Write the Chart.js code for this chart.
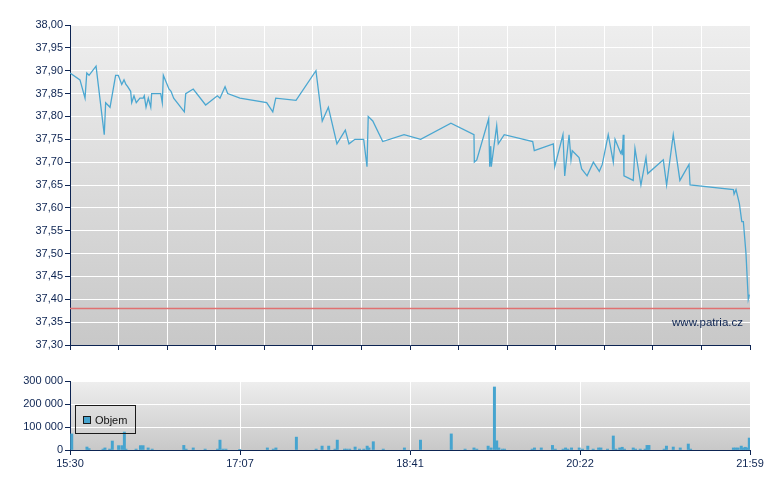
<!DOCTYPE html>
<html lang="cs">
<head>
    <meta charset="UTF-8">
    <title>Graf</title>
    <script src="https://cdn.jsdelivr.net/npm/chart.js"></script>
    <style>
        body {
            margin: 0;
            background: #fff;
        }
        canvas {
            position: absolute;
            left: 0;
        }
        #priceChart { top: 0; }
        #volumeChart { top: 360px; }
    </style>
</head>
<body>
    <canvas id="priceChart" width="780" height="360"></canvas>
    <canvas id="volumeChart" width="780" height="130"></canvas>

    <script>
        // minuty od 15:30 (konec seance 21:59 = 389)
        const sessionLength = 389;
        const timeLabels = ["15:30", "17:07", "18:41", "20:22", "21:59"];
        const priceTicks = [37.30, 38.00, 0.05];
        const limitPrice = 37.38;

        const priceTimes = [
            0, 5.7, 8.6, 9.6, 10.9, 14.9, 19.6, 20.4, 22.9, 26.1,
            27.6, 29.6, 30.9, 32.0, 33.0, 34.7, 35.3, 36.6, 37.9, 40.0,
            41.9, 42.5, 43.5, 44.8, 46.2, 46.7, 51.9, 52.8, 53.4, 56.6,
            57.8, 59.3, 65.4, 66.2, 70.5, 77.6, 84.3, 85.8, 88.7, 90.2,
            97.2, 112.5, 116.0, 117.7, 129.3, 140.7, 144.3, 147.8, 152.7, 157.5,
            159.6, 163.0, 168.0, 169.9, 170.6, 173.2, 178.9, 191.1, 200.6, 217.9,
            231.1, 231.3, 232.7, 239.5, 240.1, 240.7, 241.0, 244.1, 245.0, 248.4,
            264.7, 265.6, 276.5, 277.3, 282.0, 283.0, 285.5, 286.6, 287.3, 291.2,
            292.7, 295.8, 299.4, 302.8, 304.5, 307.9, 310.8, 311.8, 315.0, 315.6,
            315.9, 316.5, 316.9, 322.2, 323.2, 326.6, 329.5, 330.5, 339.4, 341.3,
            345.1, 348.9, 354.1, 354.7, 379.5, 379.9, 381.0, 382.9, 384.3, 385.2,
            386.7, 388.0, 388.6
        ];
        const prices = [
            37.895, 37.880, 37.840, 37.895, 37.890, 37.910, 37.760, 37.830, 37.820, 37.890,
            37.890, 37.870, 37.880, 37.870, 37.865, 37.855, 37.830, 37.845, 37.830, 37.840,
            37.840, 37.845, 37.820, 37.840, 37.820, 37.850, 37.850, 37.830, 37.890, 37.860,
            37.855, 37.840, 37.810, 37.850, 37.860, 37.825, 37.845, 37.840, 37.865, 37.850,
            37.840, 37.830, 37.810, 37.840, 37.835, 37.900, 37.790, 37.820, 37.740, 37.770,
            37.740, 37.750, 37.750, 37.690, 37.800, 37.790, 37.745, 37.760, 37.750, 37.785,
            37.760, 37.700, 37.705, 37.795, 37.690, 37.735, 37.690, 37.780, 37.740, 37.760,
            37.745, 37.725, 37.740, 37.690, 37.760, 37.670, 37.760, 37.705, 37.725, 37.710,
            37.685, 37.670, 37.700, 37.680, 37.695, 37.760, 37.700, 37.750, 37.720, 37.725,
            37.715, 37.760, 37.670, 37.660, 37.730, 37.650, 37.710, 37.675, 37.705, 37.650,
            37.760, 37.660, 37.695, 37.650, 37.640, 37.630, 37.640, 37.610, 37.570, 37.570,
            37.500, 37.400, 37.410
        ];

        const volumeTimes = [
            1.0, 9.7, 10.9, 18.9, 20.0, 22.7, 24.2, 27.8, 29.7, 31.1,
            32.0, 37.8, 40.3, 41.8, 44.7, 47.0, 65.1, 66.4, 70.5, 77.3,
            84.4, 85.8, 87.5, 89.2, 97.1, 112.9, 116.3, 117.8, 129.5, 140.8,
            144.2, 148.0, 151.6, 152.9, 157.0, 158.2, 160.0, 163.1, 165.6, 168.1,
            170.0, 171.0, 173.5, 179.2, 191.3, 200.5, 218.1, 226.0, 231.1, 232.7,
            239.2, 240.9, 242.8, 244.1, 245.3, 247.3, 248.6, 264.4, 265.7, 269.6,
            276.0, 277.6, 282.1, 283.5, 284.8, 286.9, 291.3, 293.2, 296.2, 299.3,
            302.4, 303.7, 307.5, 310.8, 312.3, 314.5, 315.9, 317.2, 322.2, 323.5,
            326.2, 329.0, 330.1, 331.2, 339.9, 341.2, 345.1, 349.1, 353.7, 355.0,
            379.5, 380.8, 382.2, 384.0, 385.3, 386.3, 387.4, 388.6
        ];
        const volumes = [
            70000, 13000, 6000, 4000, 9000, 4000, 39000, 19000, 19000, 78000,
            4000, 4000, 19000, 19000, 9000, 4000, 20000, 4000, 9000, 4000,
            4000, 43000, 4000, 4000, 3000, 9000, 4000, 9000, 56000, 4000,
            17000, 17000, 4000, 43000, 4000, 4000, 4000, 13000, 4000, 4000,
            17000, 9000, 36000, 4000, 9000, 43000, 70000, 4000, 9000, 4000,
            17000, 9000, 274000, 40000, 9000, 4000, 4000, 4000, 9000, 9000,
            20000, 4000, 4000, 9000, 4000, 9000, 9000, 4000, 17000, 4000,
            9000, 9000, 4000, 61000, 4000, 9000, 12000, 4000, 9000, 4000,
            4000, 4000, 20000, 20000, 4000, 17000, 13000, 9000, 26000, 4000,
            9000, 9000, 9000, 17000, 9000, 12000, 9000, 52000
        ];
        const volumeTicks = [0, 300000, 100000];

        const navy = "#0d2452";
        const lineBlue = "#4ba7d1";
        const tickFont = { family: "'Liberation Sans', Arial, sans-serif", size: 11 };

        // pozadí grafu - šedý přechod
        const plotBackground = {
            id: "plotBackground",
            beforeDraw(chart) {
                const { ctx, chartArea: a } = chart;
                const g = ctx.createLinearGradient(0, a.top, 0, a.bottom);
                g.addColorStop(0, "#eeeeee");
                g.addColorStop(1, "#c8c8c8");
                ctx.save();
                ctx.fillStyle = g;
                ctx.fillRect(a.left, a.top, a.right - a.left, a.bottom - a.top);
                ctx.restore();
            }
        };

        const watermark = {
            id: "watermark",
            afterDraw(chart) {
                const { ctx, chartArea: a } = chart;
                ctx.save();
                ctx.font = "11.5px 'Liberation Sans', Arial, sans-serif";
                ctx.fillStyle = navy;
                ctx.textAlign = "right";
                ctx.textBaseline = "middle";
                ctx.fillText("www.patria.cz", a.right - 7, a.bottom - 22);
                ctx.restore();
            }
        };

        const boxLegend = {
            id: "boxLegend",
            afterDraw(chart) {
                const { ctx, chartArea: a } = chart;
                const ds = chart.data.datasets[0];
                ctx.save();
                ctx.strokeStyle = "#1a1a1a";
                ctx.lineWidth = 1;
                ctx.strokeRect(a.left + 5.5, a.top + 24.5, 60, 28);
                ctx.fillStyle = ds.backgroundColor;
                ctx.fillRect(a.left + 13.5, a.top + 35.5, 7, 7);
                ctx.strokeRect(a.left + 13.5, a.top + 35.5, 7, 7);
                ctx.font = "11px 'Liberation Sans', Arial, sans-serif";
                ctx.fillStyle = "#111";
                ctx.textBaseline = "middle";
                ctx.fillText(ds.label, a.left + 25, a.top + 39.5);
                ctx.restore();
            }
        };

        function evenTicks(count) {
            return scale => {
                const ticks = [];
                for (let i = 0; i <= count; i++) ticks.push({ value: sessionLength * i / count });
                scale.ticks = ticks;
            };
        }

        new Chart(document.getElementById("priceChart"), {
            type: "line",
            data: {
                datasets: [{
                    data: priceTimes.map((t, i) => ({ x: t, y: prices[i] })),
                    borderColor: lineBlue,
                    borderWidth: 1.3,
                    pointRadius: 0,
                    tension: 0
                }, {
                    data: [{ x: 0, y: limitPrice }, { x: sessionLength, y: limitPrice }],
                    borderColor: "#e07070",
                    borderWidth: 1.5,
                    pointRadius: 0
                }]
            },
            options: {
                responsive: false,
                animation: false,
                layout: { padding: { top: 25, right: 30, left: 0, bottom: 0 } },
                plugins: { legend: { display: false }, tooltip: { enabled: false } },
                scales: {
                    x: {
                        type: "linear",
                        min: 0,
                        max: sessionLength,
                        afterBuildTicks: evenTicks(14),
                        afterFit: s => { s.height = 15; },
                        ticks: { display: false },
                        grid: { color: "#ffffff", tickColor: navy, tickLength: 5 },
                        border: { color: navy, width: 1 }
                    },
                    y: {
                        min: priceTicks[0],
                        max: priceTicks[1],
                        afterFit: s => { s.width = 70; },
                        ticks: {
                            stepSize: priceTicks[2],
                            color: navy,
                            font: tickFont,
                            padding: 2,
                            callback: v => v.toFixed(2).replace(".", ",")
                        },
                        grid: { color: "#ffffff", tickColor: navy, tickLength: 5 },
                        border: { color: navy, width: 1 }
                    }
                }
            },
            plugins: [plotBackground, watermark]
        });

        new Chart(document.getElementById("volumeChart"), {
            type: "bar",
            data: {
                datasets: [{
                    label: "Objem",
                    data: volumeTimes.map((t, i) => ({ x: t, y: volumes[i] })),
                    backgroundColor: "#46a4cf",
                    barThickness: 2.3
                }]
            },
            options: {
                responsive: false,
                animation: false,
                layout: { padding: { top: 21, right: 30, left: 0, bottom: 0 } },
                plugins: { legend: { display: false }, tooltip: { enabled: false } },
                scales: {
                    x: {
                        type: "linear",
                        min: 0,
                        max: sessionLength,
                        offset: false,
                        afterBuildTicks: evenTicks(4),
                        afterFit: s => { s.height = 40; },
                        ticks: {
                            color: navy,
                            font: tickFont,
                            padding: 2,
                            maxRotation: 0,
                            callback: (v, i) => timeLabels[i]
                        },
                        grid: {
                            offset: false,
                            color: c => (c.index === 0 || c.index === 4) ? "rgba(0,0,0,0)" : "#ffffff",
                            tickColor: navy,
                            tickLength: 5
                        },
                        border: { color: navy, width: 1 }
                    },
                    y: {
                        min: volumeTicks[0],
                        max: volumeTicks[1],
                        afterFit: s => { s.width = 70; },
                        ticks: {
                            stepSize: volumeTicks[2],
                            color: navy,
                            font: tickFont,
                            padding: 2,
                            callback: v => String(v).replace(/\B(?=(\d{3})+(?!\d))/g, " ")
                        },
                        grid: { color: "#ffffff", tickColor: navy, tickLength: 5 },
                        border: { color: navy, width: 1 }
                    }
                }
            },
            plugins: [plotBackground, boxLegend]
        });
    </script>
</body>
</html>
